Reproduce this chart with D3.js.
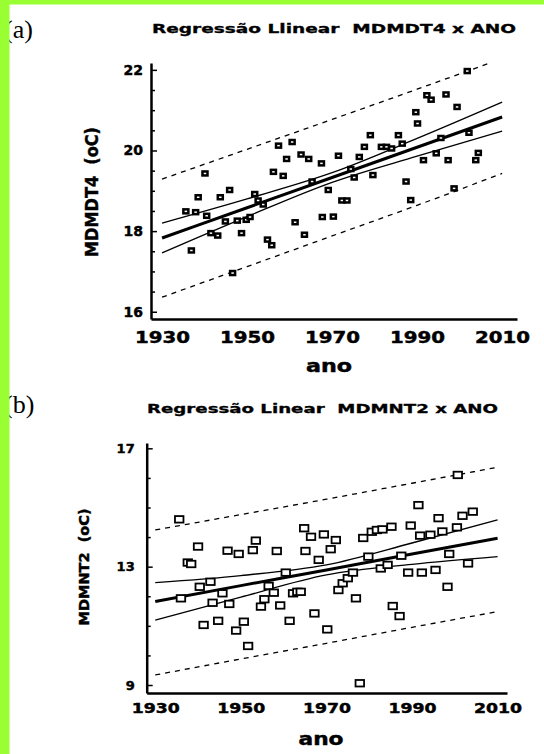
<!DOCTYPE html>
<html>
<head>
<meta charset="utf-8">
<script src="https://cdn.jsdelivr.net/npm/d3@7"></script>
<style>
  body { margin: 0; background: #fff; }
  svg { display: block; }
</style>
</head>
<body>
<div id="chart"></div>
<script>
// ---- data ----
const xTicks = [1930, 1950, 1970, 1990, 2010];
const bandYears = [1930, 1950, 1970, 1990, 2010];

// (a) MDMDT4
const yearsA = [1935.6, 1936.9, 1937.9, 1938.5, 1940.1, 1940.5, 1941.5, 1943.1, 1943.7, 1944.9,
  1945.9, 1946.6, 1947.7, 1948.7, 1949.8, 1950.7, 1951.8, 1952.6, 1953.8, 1954.8,
  1955.8, 1956.2, 1957.4, 1958.5, 1959.3, 1960.6, 1961.3, 1962.7, 1963.5, 1964.5,
  1965.3, 1967.5, 1967.7, 1969.1, 1970.3, 1971.5, 1972.3, 1973.5, 1974.4, 1975.2,
  1976.4, 1977.6, 1979.0, 1979.6, 1981.6, 1982.8, 1984.0, 1985.6, 1986.5, 1987.4,
  1988.5, 1989.7, 1990.1, 1991.5, 1992.3, 1993.3, 1994.5, 1995.6, 1996.8, 1997.3,
  1998.7, 1999.4, 2001.8, 2002.2, 2003.8, 2004.4];
const valuesA = [18.49, 17.52, 18.47, 18.84, 19.43, 18.38, 17.95, 17.89, 18.84, 18.24,
  19.02, 16.96, 18.26, 17.95, 18.28, 18.35, 18.92, 18.76, 18.66, 17.79,
  17.65, 19.47, 20.12, 19.37, 19.79, 20.21, 18.22, 19.90, 17.91, 19.79,
  19.23, 19.68, 18.35, 19.02, 18.36, 19.87, 18.76, 18.76, 19.54, 19.33,
  19.84, 20.09, 20.38, 19.39, 20.09, 20.09, 20.05, 20.38, 20.17, 19.23,
  18.77, 20.95, 20.67, 19.76, 21.37, 21.26, 19.93, 20.31, 21.39, 19.76,
  19.06, 21.08, 21.97, 20.44, 19.76, 19.94];
const meanA = [17.83, 18.58, 19.33, 20.08, 20.83];
const ciUpA = [18.20, 18.80, 19.45, 20.30, 21.20];
const ciLoA = [17.46, 18.36, 19.21, 19.86, 20.48];
const piUpA = [19.29, 20.03, 20.77, 21.52, 22.28];
const piLoA = [16.36, 17.12, 17.88, 18.64, 19.43];
const yLabelsA = [16, 18, 20, 22];
const yMinorA = [16, 16.5, 17, 17.5, 18, 18.5, 19, 19.5, 20, 20.5, 21, 21.5, 22];

// (b) MDMNT2
const yearsB = [1935.6, 1936.0, 1937.6, 1938.4, 1940.0, 1940.4, 1941.3, 1942.9, 1943.4, 1944.7,
  1945.7, 1946.9, 1947.3, 1948.9, 1949.5, 1950.7, 1951.7, 1952.8, 1953.5, 1954.7,
  1955.5, 1956.5, 1957.7, 1958.4, 1959.2, 1960.5, 1961.4, 1962.2, 1963.2, 1964.0,
  1964.8, 1965.1, 1966.4, 1967.2, 1968.2, 1969.4, 1970.2, 1971.0, 1972.2, 1972.8,
  1973.8, 1975.0, 1976.2, 1976.9, 1977.8, 1978.6, 1979.8, 1980.6, 1981.8, 1982.7,
  1983.1, 1984.3, 1985.2, 1985.5, 1987.1, 1987.5, 1989.1, 1989.7, 1991.5, 1992.3,
  1991.9, 1994.3, 1995.5, 1996.2, 1997.1, 1998.3, 1998.7, 2000.5, 2000.7, 2001.8,
  2003.1, 2004.2];
const valuesB = [14.60, 11.93, 13.14, 13.09, 13.68, 12.32, 11.03, 12.49, 11.78, 11.17,
  12.10, 13.54, 11.74, 10.84, 13.43, 11.14, 10.32, 13.56, 13.88, 11.65,
  11.90, 12.35, 12.12, 13.53, 11.69, 12.80, 11.17, 12.10, 12.15, 12.15,
  14.30, 13.53, 14.01, 11.42, 13.23, 14.09, 10.88, 13.59, 13.90, 12.21,
  12.44, 12.61, 12.80, 11.93, 9.06, 13.97, 13.34, 14.18, 14.24, 12.94,
  14.26, 13.06, 14.35, 11.67, 11.33, 13.37, 12.80, 14.39, 15.08, 12.80,
  14.05, 14.08, 12.89, 14.64, 14.19, 12.32, 13.43, 14.33, 16.10, 14.72,
  13.11, 14.86];
const meanB = [11.82, 12.36, 12.89, 13.43, 13.96];
const ciUpB = [12.46, 12.70, 13.06, 13.80, 14.58];
const ciLoB = [11.19, 11.97, 12.72, 13.08, 13.34];
const piUpB = [14.24, 14.76, 15.28, 15.82, 16.36];
const piLoB = [9.34, 9.88, 10.41, 10.95, 11.48];
const yLabelsB = [9, 13, 17];
const yMinorB = [9, 10, 11, 12, 13, 14, 15, 16, 17];

const font = "'DejaVu Sans', sans-serif";
const gap = '\u00a0\u00a0';

const svg = d3.select('#chart')
  .append('svg')
  .attr('width', 544)
  .attr('height', 754);

svg.append('rect').attr('width', 544).attr('height', 754).attr('fill', '#fff');

// heavy black sans used for every label in the figure
function heavy(sel, size) {
  return sel.attr('font-family', font).attr('font-weight', 'bold')
    .attr('font-size', size).attr('fill', '#000')
    .attr('stroke', '#000').attr('stroke-width', 0.45);
}

function drawPanel(p) {
  const x = d3.scaleLinear().domain(p.xDomain).range(p.xRange);
  const y = d3.scaleLinear().domain(p.yDomain).range(p.yRange);
  const g = svg.append('g');

  g.append('clipPath').attr('id', p.id)
    .append('rect')
    .attr('x', p.xRange[0]).attr('y', p.yRange[1])
    .attr('width', p.xRange[1] - p.xRange[0])
    .attr('height', p.yRange[0] - p.yRange[1]);

  const line = d3.line()
    .x((d, i) => x(bandYears[i]))
    .y(d => y(d))
    .curve(d3.curveMonotoneX);

  const plot = g.append('g').attr('clip-path', `url(#${p.id})`);
  [p.piUp, p.piLo].forEach(band => {
    plot.append('path').attr('d', line(band))
      .attr('fill', 'none').attr('stroke', '#000')
      .attr('stroke-width', 1.3).attr('stroke-dasharray', '5,5');
  });
  [p.ciUp, p.ciLo].forEach(band => {
    plot.append('path').attr('d', line(band))
      .attr('fill', 'none').attr('stroke', '#000').attr('stroke-width', 1.3);
  });
  plot.append('path').attr('d', line(p.mean))
    .attr('fill', 'none').attr('stroke', '#000').attr('stroke-width', 3);

  plot.selectAll('rect.pt')
    .data(p.years)
    .join('rect')
    .attr('class', 'pt')
    .attr('x', d => x(d) - p.box[0] / 2)
    .attr('y', (d, i) => y(p.values[i]) - p.box[1] / 2)
    .attr('width', p.box[0])
    .attr('height', p.box[1])
    .attr('fill', '#fff')
    .attr('stroke', '#000')
    .attr('stroke-width', p.box[2]);

  // y axis: line + inward ticks
  const yAxis = g.append('g')
    .attr('transform', `translate(${p.xRange[0]},0)`)
    .call(d3.axisRight(y).tickValues(p.yMinor).tickSize(4).tickSizeOuter(0).tickFormat(''));
  yAxis.select('.domain').attr('stroke-width', 2.5);
  yAxis.selectAll('.tick line').attr('stroke-width', 1.5)
    .attr('x2', d => (p.yLabels.includes(d) ? 6 : 4));

  const yLab = g.append('g')
    .attr('transform', `translate(${p.xRange[0]},0)`)
    .call(d3.axisLeft(y).tickValues(p.yLabels).tickSize(0).tickPadding(p.yPad)
      .tickFormat(d3.format('d')));
  yLab.select('.domain').remove();
  heavy(yLab.selectAll('text'), p.yFont);

  // x axis
  const xAxis = g.append('g')
    .attr('transform', `translate(0,${p.yRange[0]})`)
    .call(d3.axisBottom(x).tickValues(xTicks).tickSize(0).tickSizeOuter(0)
      .tickFormat(d3.format('d')));
  xAxis.select('.domain').attr('stroke-width', 2.5);
  heavy(xAxis.selectAll('text'), p.xFont)
    .attr('y', p.xLabelY).attr('dy', 0)
    .attr('textLength', p.xLabelLen).attr('lengthAdjust', 'spacingAndGlyphs');

  // titles and axis names
  heavy(g.append('text'), 12)
    .attr('x', p.title.x).attr('y', p.title.y)
    .attr('stroke-width', 0.3)
    .attr('textLength', p.title.len).attr('lengthAdjust', 'spacingAndGlyphs')
    .text(p.title.text);

  heavy(g.append('text'), p.yName.size)
    .attr('transform', `translate(${p.yName.x},${p.yName.y}) rotate(-90)`)
    .attr('text-anchor', 'middle')
    .attr('textLength', p.yName.len).attr('lengthAdjust', 'spacingAndGlyphs')
    .text(p.yName.text);

  heavy(g.append('text'), 17)
    .attr('x', p.xName.x).attr('y', p.xName.y)
    .attr('text-anchor', 'middle')
    .attr('textLength', p.xName.len).attr('lengthAdjust', 'spacingAndGlyphs')
    .text('ano');

  g.append('text')
    .attr('x', 4).attr('y', p.tag.y)
    .attr('font-family', "'Liberation Serif', serif").attr('font-size', 26)
    .text(p.tag.text);
}

drawPanel({
  id: 'clipA',
  xDomain: [1927.4, 2013.5], xRange: [151, 517],
  yDomain: [15.82, 22.17], yRange: [319, 63],
  years: yearsA, values: valuesA,
  mean: meanA, ciUp: ciUpA, ciLo: ciLoA, piUp: piUpA, piLo: piLoA,
  yLabels: yLabelsA, yMinor: yMinorA, yPad: 8, yFont: 14,
  box: [5, 4, 2.5],
  xLabelY: 24, xFont: 16, xLabelLen: 55,
  title: { x: 152, y: 33, len: 364, text: `Regressão Llinear${gap}MDMDT4 x ANO` },
  yName: { x: 98, y: 192, size: 18, len: 130, text: `MDMDT4${gap}(oC)` },
  xName: { x: 329, y: 372, len: 46 },
  tag: { y: 38, text: '(a)' }
});

drawPanel({
  id: 'clipB',
  xDomain: [1928, 2012.2], xRange: [146.7, 507],
  yDomain: [8.73, 17.18], yRange: [693, 443],
  years: yearsB, values: valuesB,
  mean: meanB, ciUp: ciUpB, ciLo: ciLoB, piUp: piUpB, piLo: piLoB,
  yLabels: yLabelsB, yMinor: yMinorB, yPad: 12, yFont: 13,
  box: [8.5, 6.5, 1.8],
  xLabelY: 20, xFont: 14, xLabelLen: 48,
  title: { x: 147, y: 413, len: 351, text: `Regressão Linear${gap}MDMNT2 x ANO` },
  yName: { x: 88.5, y: 567, size: 14, len: 117, text: `MDMNT2${gap}(oC)` },
  xName: { x: 321, y: 745, len: 45 },
  tag: { y: 413, text: '(b)' }
});

// lime frame on the left and top edges
svg.append('rect').attr('x', 0).attr('y', 0).attr('width', 9.5).attr('height', 754).attr('fill', '#99ff33');
svg.append('rect').attr('x', 0).attr('y', 0).attr('width', 544).attr('height', 4.5).attr('fill', '#99ff33');
</script>
</body>
</html>
